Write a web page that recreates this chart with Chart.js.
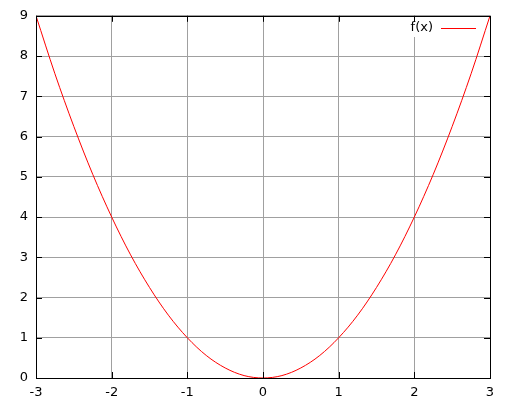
<!DOCTYPE html>
<html>
<head>
<meta charset="utf-8">
<script src="https://cdn.jsdelivr.net/npm/chart.js@4/dist/chart.umd.min.js"></script>
<style>
  html, body { margin: 0; padding: 0; background: #fff; }
  #wrap { width: 512px; height: 410px; }
</style>
</head>
<body>
<div id="wrap"><canvas id="plot" width="512" height="410"></canvas></div>
<script>
// values
const xValues = [-3, -2.75, -2.5, -2.25, -2, -1.75, -1.5, -1.25, -1, -0.75, -0.5, -0.25, 0,
                 0.25, 0.5, 0.75, 1, 1.25, 1.5, 1.75, 2, 2.25, 2.5, 2.75, 3];
const yValues = [9, 7.56, 6.25, 5.06, 4, 3.06, 2.25, 1.56, 1, 0.56, 0.25, 0.06, 0,
                 0.06, 0.25, 0.56, 1, 1.56, 2.25, 3.06, 4, 5.06, 6.25, 7.56, 9];
const xTicks = [-3, -2, -1, 0, 1, 2, 3];
const yTicks = [0, 1, 2, 3, 4, 5, 6, 7, 8, 9];
const seriesLabel = 'f(x)';

const FONT = { family: 'DejaVu Sans', size: 13 };

// gnuplot style frame: inward ticks on all sides, key in top right
const framePlugin = {
    id: 'frame',
    beforeDatasetsDraw(chart) {
        const ctx = chart.ctx;
        ctx.save();
        ctx.fillStyle = '#ffffff';
        ctx.fillRect(398, 21, 84, 16);
        ctx.restore();
    },
    afterDatasetsDraw(chart) {
        const ctx = chart.ctx;
        const a = chart.chartArea;
        const xs = chart.scales.x, ys = chart.scales.y;
        const len = 6;
        ctx.save();
        ctx.strokeStyle = '#000000';
        ctx.lineWidth = 1;
        ctx.beginPath();
        xTicks.forEach(v => {
            const px = Math.round(xs.getPixelForValue(v)) + 0.5;
            ctx.moveTo(px, a.bottom); ctx.lineTo(px, a.bottom - len);
            ctx.moveTo(px, a.top); ctx.lineTo(px, a.top + len);
        });
        yTicks.forEach(v => {
            const py = Math.round(ys.getPixelForValue(v)) + 0.5;
            ctx.moveTo(a.left, py); ctx.lineTo(a.left + len, py);
            ctx.moveTo(a.right, py); ctx.lineTo(a.right - len, py);
        });
        ctx.stroke();
        ctx.strokeRect(Math.round(a.left) + 0.5, Math.round(a.top) + 0.5,
                       Math.round(a.right - a.left), Math.round(a.bottom - a.top));

        // key
        ctx.font = FONT.size + 'px ' + FONT.family;
        ctx.fillStyle = '#000000';
        ctx.textAlign = 'right';
        ctx.textBaseline = 'middle';
        ctx.fillText(seriesLabel, 433, 28);
        ctx.strokeStyle = '#ff0000';
        ctx.beginPath();
        ctx.moveTo(441, 28.5); ctx.lineTo(476, 28.5);
        ctx.stroke();
        ctx.restore();
    }
};

new Chart(document.getElementById('plot').getContext('2d'), {
    type: 'line',
    data: {
        datasets: [{
            label: seriesLabel,
            data: xValues.map((x, i) => ({ x: x, y: yValues[i] })),
            borderColor: '#ff0000',
            borderWidth: 1,
            pointRadius: 0,
            cubicInterpolationMode: 'monotone',
            fill: false
        }]
    },
    options: {
        responsive: false,
        animation: false,
        layout: { padding: { top: 12.2, right: 22, left: 0, bottom: 0 } },
        plugins: {
            legend: { display: false },
            tooltip: { enabled: false }
        },
        scales: {
            x: {
                type: 'linear',
                min: -3,
                max: 3,
                afterBuildTicks: s => { s.ticks = xTicks.map(v => ({ value: v })); },
                afterFit: s => { s.height = 32; },
                grid: { color: '#a0a0a0', lineWidth: 1, drawTicks: false },
                border: { display: false },
                ticks: { color: '#000', font: FONT, padding: 7 }
            },
            y: {
                type: 'linear',
                min: 0,
                max: 9,
                afterBuildTicks: s => { s.ticks = yTicks.map(v => ({ value: v })); },
                afterFit: s => { s.width = 36; },
                grid: { color: '#a0a0a0', lineWidth: 1, drawTicks: false },
                border: { display: false },
                ticks: { color: '#000', font: FONT, padding: 8 }
            }
        }
    },
    plugins: [framePlugin]
});
</script>
</body>
</html>
